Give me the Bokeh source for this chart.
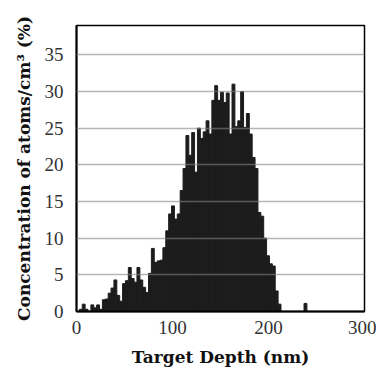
from bokeh.plotting import figure
from bokeh.models import FixedTicker, Range1d
from bokeh.embed import file_html
from bokeh.resources import INLINE

# Histogram of implanted ion depth (3 nm bins from 0 to 300 nm)
bin_width_nm = 3
concentration = [
    0.0, 0.3, 1.0, 0.3, 0.0, 0.9, 0.5, 0.9, 0.3, 1.6,
    1.7, 2.5, 3.2, 4.3, 2.2, 1.4, 3.8, 4.2, 6.0, 4.5,
    4.0, 6.0, 4.3, 3.3, 2.6, 5.2, 8.6, 6.7, 6.9, 7.0,
    8.7, 11.0, 13.3, 14.4, 12.6, 13.3, 16.5, 19.5, 24.0, 21.3,
    24.4, 19.0, 25.0, 23.6, 24.5, 26.0, 24.2, 28.8, 30.8, 28.8,
    29.9, 28.5, 29.8, 24.2, 31.0, 25.2, 26.0, 30.0, 25.1, 27.0,
    24.2, 21.0, 19.5, 13.5, 13.0, 10.0, 7.6, 6.5, 6.2, 2.8,
    1.0, 0.0, 0.0, 0.0, 0.0, 0.0, 0.0, 0.0, 0.0, 1.1,
    0.0, 0.0, 0.0, 0.0, 0.0, 0.0, 0.0, 0.0, 0.0, 0.0,
    0.0, 0.0, 0.0, 0.0, 0.0, 0.0, 0.0, 0.0, 0.0, 0.0,
]
bin_left = [i * bin_width_nm for i in range(len(concentration))]
bin_right = [b + bin_width_nm for b in bin_left]

x_ticks = [0, 100, 200, 300]
y_ticks = [0, 5, 10, 15, 20, 25, 30, 35]

p = figure(width=376, height=370, output_backend="svg", toolbar_location=None,
           x_range=Range1d(0, 300), y_range=Range1d(0, 39),
           min_border_left=76, min_border_right=12, min_border_top=25,
           min_border_bottom=59)

p.quad(left=bin_left, right=bin_right, bottom=0, top=concentration,
       fill_color="#1c1c1c", line_color="#1c1c1c", line_width=1)

p.xgrid.visible = False
p.ygrid.ticker = FixedTicker(ticks=[5, 10, 15, 20, 25, 30, 35])
p.ygrid.grid_line_color = "#848484"
p.ygrid.grid_line_alpha = 0.6
p.ygrid.grid_line_width = 1.5
p.ygrid.level = "annotation"

p.outline_line_color = "black"
p.outline_line_width = 1.5
p.outline_line_alpha = 1.0

tick_font = "Liberation Sans Narrow"
for ax in (p.xaxis[0], p.yaxis[0]):
    ax.axis_line_color = "black"
    ax.axis_line_width = 2
    ax.major_tick_line_color = None
    ax.minor_tick_line_color = None
    ax.major_label_text_font = tick_font
    ax.major_label_text_font_size = "19px"
    ax.major_label_text_color = "#333333"
    ax.axis_label_text_font = "DejaVu Serif"
    ax.axis_label_text_font_style = "bold"
    ax.axis_label_text_font_size = "17px"
    ax.axis_label_text_color = "#111111"

p.xaxis.ticker = FixedTicker(ticks=x_ticks)
p.yaxis.ticker = FixedTicker(ticks=y_ticks)
p.xaxis.major_label_standoff = 3
p.yaxis.major_label_standoff = 7
p.xaxis.axis_label = "Target Depth (nm)"
p.yaxis.axis_label = "Concentration of atoms/cm³ (%)"
p.xaxis.axis_label_standoff = 10
p.yaxis.axis_label_standoff = 8

open("out.html", "w").write(file_html(p, INLINE))
